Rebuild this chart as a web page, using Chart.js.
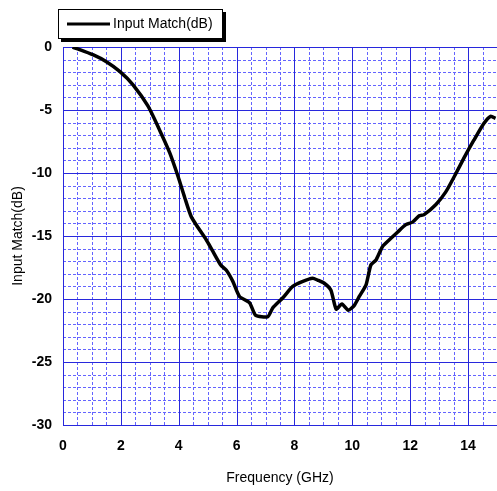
<!DOCTYPE html>
<html>
<head>
<meta charset="utf-8">
<script src="https://cdn.jsdelivr.net/npm/chart.js@4/dist/chart.umd.min.js"></script>
<style>
  html, body { margin: 0; padding: 0; background: #fff; }
  #wrap { width: 497px; height: 491px; }
</style>
</head>
<body>
<div id="wrap"><canvas id="chart" width="497" height="491"></canvas></div>
<script>
// Data
const freqGHz = [0.33, 1.05, 1.5, 1.97, 2.42, 2.94, 3.34, 3.69, 3.98, 4.2, 4.44, 4.95, 5.15,
  5.45, 5.64, 5.87, 6.1, 6.45, 6.66, 7.08, 7.25, 7.6, 7.94, 8.29, 8.63, 8.8, 9.03, 9.26,
  9.44, 9.64, 9.86, 10.07, 10.24, 10.47, 10.64, 10.82, 11.04, 11.28, 11.56, 11.85, 12.08,
  12.31, 12.48, 12.89, 13.23, 13.52, 13.86, 14.2, 14.55, 14.78, 14.95];
const inputMatch = [0, -0.63, -1.17, -1.96, -3.0, -4.7, -6.6, -8.4, -10.3, -11.9, -13.5, -15.3, -16.1,
  -17.3, -17.7, -18.6, -19.8, -20.3, -21.3, -21.4, -20.7, -19.9, -19.0, -18.6, -18.35, -18.5, -18.75, -19.3,
  -20.8, -20.4, -20.9, -20.5, -19.8, -18.9, -17.3, -16.9, -15.85, -15.3, -14.7, -14.1, -13.9,
  -13.4, -13.3, -12.5, -11.5, -10.3, -8.8, -7.4, -6.05, -5.5, -5.66];
const xTicks = [0, 2, 4, 6, 8, 10, 12, 14];
const yTicks = [-30, -25, -20, -15, -10, -5, 0];
const seriesName = 'Input Match(dB)';

const FONT = '"Liberation Sans", Arial, sans-serif';
const majorColor = 'rgb(40, 40, 220)';
const minorColor = 'rgb(100, 100, 255)';

// Grid: solid major lines, dashed minor lines
const gridPlugin = {
  id: 'grid',
  beforeDatasetsDraw(chart) {
    const ctx = chart.ctx;
    const area = chart.chartArea;
    const xs = chart.scales.x;
    const ys = chart.scales.y;
    ctx.save();
    ctx.lineWidth = 1;
    // minor dashed
    ctx.strokeStyle = minorColor;
    ctx.setLineDash([3, 2]);
    for (let v = 0.5; v < 15; v += 0.5) {
      if (v % 2 === 0) continue;
      const px = Math.round(xs.getPixelForValue(v)) + 0.5;
      ctx.beginPath(); ctx.moveTo(px, area.top); ctx.lineTo(px, area.bottom); ctx.stroke();
    }
    for (let v = -29; v < 0; v += 1) {
      if (v % 5 === 0) continue;
      const py = Math.round(ys.getPixelForValue(v)) + 0.5;
      ctx.beginPath(); ctx.moveTo(area.left, py); ctx.lineTo(area.right, py); ctx.stroke();
    }
    // major solid
    ctx.setLineDash([]);
    ctx.strokeStyle = majorColor;
    xTicks.forEach(v => {
      const px = Math.round(xs.getPixelForValue(v)) + 0.5;
      ctx.beginPath(); ctx.moveTo(px, area.top); ctx.lineTo(px, area.bottom); ctx.stroke();
    });
    yTicks.forEach(v => {
      const py = Math.round(ys.getPixelForValue(v)) + 0.5;
      ctx.beginPath(); ctx.moveTo(area.left, py); ctx.lineTo(area.right, py); ctx.stroke();
    });
    ctx.restore();
  }
};

// Legend box with drop shadow
const legendPlugin = {
  id: 'legendBox',
  afterDraw(chart) {
    const ctx = chart.ctx;
    const x = 58, y = 9, w = 165, h = 30;
    ctx.save();
    ctx.fillStyle = '#000';
    ctx.fillRect(x + 3, y + 3, w, h);
    ctx.fillStyle = '#fff';
    ctx.fillRect(x, y, w, h);
    ctx.strokeStyle = '#000';
    ctx.lineWidth = 1;
    ctx.strokeRect(x + 0.5, y + 0.5, w - 1, h - 1);
    ctx.lineWidth = 3;
    ctx.beginPath(); ctx.moveTo(67, 24); ctx.lineTo(110, 24); ctx.stroke();
    ctx.fillStyle = '#000';
    ctx.font = '14px ' + FONT;
    ctx.textBaseline = 'middle';
    ctx.fillText(seriesName, 113, 24);
    ctx.restore();
  }
};

new Chart(document.getElementById('chart'), {
  type: 'line',
  data: {
    datasets: [{
      label: seriesName,
      data: freqGHz.map((f, i) => ({ x: f, y: inputMatch[i] })),
      borderColor: '#000',
      borderWidth: 3.5,
      pointRadius: 0,
      tension: 0.2,
      fill: false
    }]
  },
  options: {
    responsive: false,
    animation: false,
    layout: { padding: { top: 47, right: 0, left: 0, bottom: 0 } },
    plugins: { legend: { display: false }, tooltip: { enabled: false } },
    scales: {
      x: {
        type: 'linear',
        min: 0, max: 15,
        afterBuildTicks: s => { s.ticks = xTicks.map(v => ({ value: v })); },
        afterFit: s => { s.height = 66; },
        grid: { display: false, drawTicks: false },
        border: { display: false },
        ticks: { color: '#000', padding: 13, font: { family: FONT, size: 14, weight: 'bold' } },
        title: { display: true, text: 'Frequency (GHz)', color: '#000', padding: { top: 16 },
          font: { family: FONT, size: 14 } }
      },
      y: {
        type: 'linear',
        min: -30, max: 0,
        afterBuildTicks: s => { s.ticks = yTicks.map(v => ({ value: v })); },
        afterFit: s => { s.width = 63; },
        grid: { display: false, drawTicks: false },
        border: { display: false },
        ticks: { color: '#000', padding: 11, font: { family: FONT, size: 14, weight: 'bold' } },
        title: { display: true, text: 'Input Match(dB)', color: '#000', padding: { top: 10, bottom: 0 },
          font: { family: FONT, size: 14 } }
      }
    }
  },
  plugins: [gridPlugin, legendPlugin]
});
</script>
</body>
</html>
